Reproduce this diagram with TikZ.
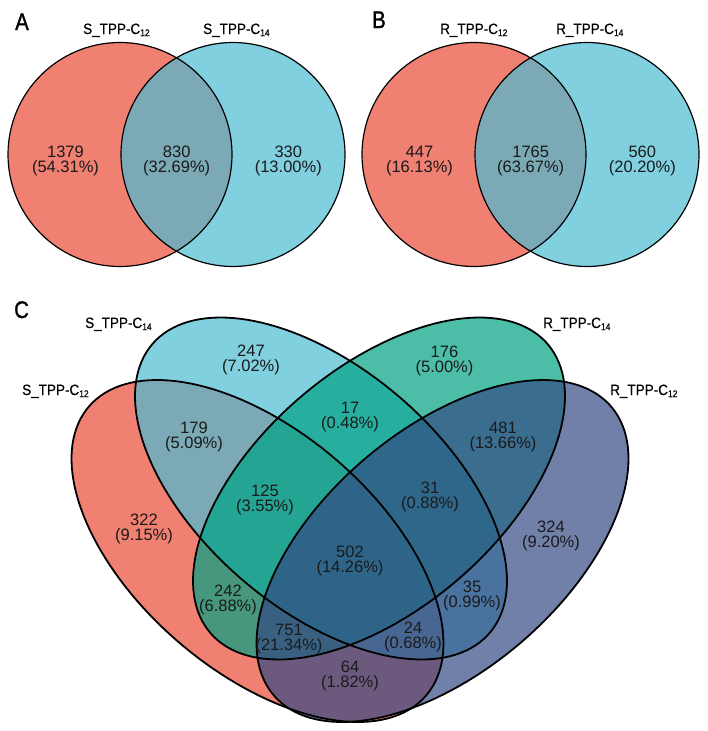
\documentclass[tikz,border=0pt]{standalone}
\usepackage{fontspec}
\setmainfont{Liberation Sans}
\newfontfamily\labfont{Liberation Sans}[FakeStretch=0.9, FakeBold=0.5]
\newfontfamily\panelfont{Liberation Sans}[FakeStretch=0.85, FakeBold=1.2]
\definecolor{cred}{HTML}{E94A36}
\definecolor{cblue}{HTML}{4ABCD3}
\definecolor{cteal}{HTML}{00A283}
\definecolor{cnavy}{HTML}{334A83}
\definecolor{ctext}{HTML}{1A1A1A}
\newcommand\csub[1]{\raisebox{-2pt}{\fontsize{9.5}{9.5}\selectfont #1}}
\tikzset{
  every picture/.style={x=1pt, y=-1pt},
  setfill/.style={fill=#1, fill opacity=0.7},
  rim/.style={draw=black, line width=1.2pt},
  num/.style={font=\fontsize{16.5}{15.2}\selectfont, text=ctext, align=center, inner sep=0pt},
  setlab/.style={font=\labfont\fontsize{15}{15}\selectfont, anchor=base west, inner sep=0pt},
  panel/.style={font=\panelfont\fontsize{24}{24}\selectfont, anchor=base west, inner sep=0pt},
}

\begin{document}
\begin{tikzpicture}
  \useasboundingbox (0,0) rectangle (708,731);
  % A: S_TPP two sets
  \begin{scope}
    \fill[setfill=cred] (120,154.5) circle (112);
    \fill[setfill=cblue] (233,154.5) circle (112);
    \draw[rim] (120,154.5) circle (112);
    \draw[rim] (233,154.5) circle (112);
    \node[panel] (pA) at (15,30) {A};
    \node[setlab] (labA1) at (83,34) {S\_TPP-C\csub{12}};
    \node[setlab] (labA2) at (203,34) {S\_TPP-C\csub{14}};
    \node[num] (aL) at (65.5,160.8) {1379\\(54.31\%)};
    \node[num] (aM) at (176.7,160.8) {830\\(32.69\%)};
    \node[num] (aR) at (288.3,160.8) {330\\(13.00\%)};
  \end{scope}
  % B: R_TPP two sets
  \begin{scope}[shift={(354,0)}]
    \fill[setfill=cred] (120,154.5) circle (112);
    \fill[setfill=cblue] (233,154.5) circle (112);
    \draw[rim] (120,154.5) circle (112);
    \draw[rim] (233,154.5) circle (112);
    \node[panel] (pB) at (18,28) {B};
    \node[setlab] (labB1) at (86,34) {R\_TPP-C\csub{12}};
    \node[setlab] (labB2) at (202,34) {R\_TPP-C\csub{14}};
    \node[num] (bL) at (65.5,160.8) {447\\(16.13\%)};
    \node[num] (bM) at (176.7,160.8) {1765\\(63.67\%)};
    \node[num] (bR) at (288.3,160.8) {560\\(20.20\%)};
  \end{scope}
  % C: four sets, fills first then outlines
  \foreach \cx/\cy/\s/\col in {257.5/551/1/cred, 321/488.5/1/cblue, 379/488.5/-1/cteal, 442.5/551/-1/cnavy}
    \fill[setfill=\col] plot[domain=0:360, samples=150] ({\cx+186*cos(\x)}, {\cy+\s*171*cos(\x-57.3)}) -- cycle;
  \foreach \cx/\cy/\s in {257.5/551/1, 321/488.5/1, 379/488.5/-1, 442.5/551/-1}
    \draw[rim, line width=1.8pt] plot[domain=0:360, samples=150] ({\cx+186*cos(\x)}, {\cy+\s*171*cos(\x-57.3)}) -- cycle;
  \node[panel] (pC) at (14,318) {C};
  \node[setlab] (labC1) at (22,395) {S\_TPP-C\csub{12}};
  \node[setlab] (labC2) at (85,328) {S\_TPP-C\csub{14}};
  \node[setlab] (labC3) at (543,328) {R\_TPP-C\csub{14}};
  \node[setlab] (labC4) at (610,395) {R\_TPP-C\csub{12}};
  \node[num] (cA) at (144,529) {322\\(9.15\%)};
  \node[num] (cB) at (251,360) {247\\(7.02\%)};
  \node[num] (cC) at (444.5,361) {176\\(5.00\%)};
  \node[num] (cD) at (551,536) {324\\(9.20\%)};
  \node[num] (cAB) at (194,437) {179\\(5.09\%)};
  \node[num] (cBC) at (350,417) {17\\(0.48\%)};
  \node[num] (cCD) at (503,437) {481\\(13.66\%)};
  \node[num] (cAC) at (228,600) {242\\(6.88\%)};
  \node[num] (cBD) at (472,596) {35\\(0.99\%)};
  \node[num] (cAD) at (350,676) {64\\(1.82\%)};
  \node[num] (cABC) at (265,500) {125\\(3.55\%)};
  \node[num] (cBCD) at (430,497) {31\\(0.88\%)};
  \node[num] (cACD) at (289,639) {751\\(21.34\%)};
  \node[num] (cABD) at (413,637) {24\\(0.68\%)};
  \node[num] (cABCD) at (350,561) {502\\(14.26\%)};
\end{tikzpicture}
\end{document}
